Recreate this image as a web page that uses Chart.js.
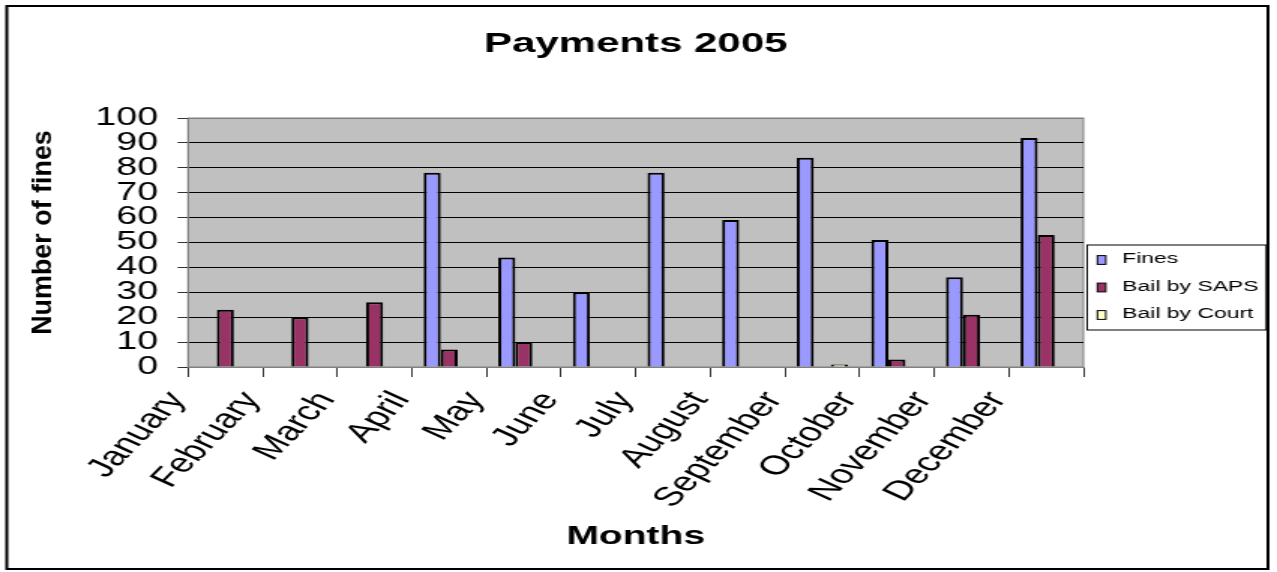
<!DOCTYPE html>
<html>
<head>
<meta charset="utf-8">
<title>Payments 2005</title>
<script src="https://cdn.jsdelivr.net/npm/chart.js@4.4.1/dist/chart.umd.min.js"></script>
<style>
  body { margin: 0; background: #fff; }
  #chartPagos { display: block; }
</style>
</head>
<body>
<!-- the chart is drawn narrow and stretched sideways, like the original picture -->
<canvas id="chartPagos" width="851" height="572" style="width:1277px;height:572px"></canvas>
<script>
const meses = ['January', 'February', 'March', 'April', 'May', 'June', 'July', 'August', 'September', 'October', 'November', 'December']
const fines = [0, 0, 0, 78, 44, 30, 78, 59, 84, 51, 36, 92]
const bailSAPS = [23, 20, 26, 7, 10, 0, 0, 0, 0, 3, 21, 53]
const bailCourt = [0, 0, 0, 0, 0, 0, 0, 0, 1, 0, 0, 0]
const ticksY = [0, 10, 20, 30, 40, 50, 60, 70, 80, 90, 100]

const fuente = "'Liberation Sans', Arial, sans-serif"

// white page, outer frame and grey plot area
const fondo = {
  id: 'fondo',
  beforeDraw(chart) {
    const { ctx, chartArea: a } = chart
    ctx.save()
    ctx.fillStyle = '#fff'
    ctx.fillRect(0, 0, chart.width, chart.height)
    ctx.strokeStyle = '#000'
    ctx.lineWidth = 2
    ctx.strokeRect(4.5, 6, 840.5, 563)
    ctx.fillStyle = '#c0c0c0'
    ctx.fillRect(a.left, a.top, a.width, a.height)
    ctx.strokeStyle = '#808080'
    ctx.lineWidth = 1
    ctx.strokeRect(a.left, a.top, a.width, a.height)
    ctx.restore()
  }
}

// y title squeezed like the original, and the boxed legend on the right
const extras = {
  id: 'extras',
  afterDraw(chart) {
    const ctx = chart.ctx
    ctx.save()
    ctx.translate(29.5, 232.5)
    ctx.rotate(-Math.PI / 2)
    ctx.scale(1.12, 0.74)
    ctx.fillStyle = '#000'
    ctx.font = 'bold 24px ' + fuente
    ctx.textAlign = 'center'
    ctx.textBaseline = 'middle'
    ctx.fillText('Number of fines', 0, 0)
    ctx.restore()

    ctx.save()
    ctx.fillStyle = '#fff'
    ctx.strokeStyle = '#000'
    ctx.lineWidth = 1
    ctx.fillRect(724.5, 245, 119.3, 85)
    ctx.strokeRect(724.5, 245, 119.3, 85)
    ctx.font = '15.3px ' + fuente
    ctx.textBaseline = 'middle'
    chart.data.datasets.forEach((ds, i) => {
      const y = 260 + i * 27.5
      ctx.fillStyle = ds.backgroundColor
      ctx.fillRect(731.3, y - 4.4, 5.6, 8.8)
      ctx.strokeRect(731.3, y - 4.4, 5.6, 8.8)
      ctx.fillStyle = '#000'
      ctx.fillText(ds.label, 747.8, y - 1)
    })
    ctx.restore()
  }
}

new Chart(document.getElementById('chartPagos'), {
  type: 'bar',
  data: {
    labels: meses,
    datasets: [
      { label: 'Fines', data: fines, backgroundColor: '#9999FF' },
      { label: 'Bail by SAPS', data: bailSAPS, backgroundColor: '#993366' },
      { label: 'Bail by Court', data: bailCourt, backgroundColor: '#FFFFCC' }
    ]
  },
  options: {
    responsive: false,
    animation: false,
    devicePixelRatio: 1,
    layout: { padding: { left: 10, top: 10, right: 129, bottom: 0 } },
    datasets: {
      bar: { borderColor: '#000', borderWidth: 2, barPercentage: 1, categoryPercentage: 0.685 }
    },
    plugins: {
      legend: { display: false },
      tooltip: { enabled: false },
      title: {
        display: true,
        text: 'Payments 2005',
        fullSize: false,
        color: '#000',
        font: { family: fuente, size: 28, weight: 'bold' },
        padding: { top: 17, bottom: 57.4 }
      }
    },
    scales: {
      x: {
        grid: { drawOnChartArea: false, drawTicks: true, tickLength: 10, color: '#333', offset: true },
        border: { color: '#808080' },
        ticks: {
          color: '#000',
          font: { family: fuente, size: 27 },
          minRotation: 56,
          maxRotation: 56,
          autoSkip: false,
          labelOffset: -32,
          padding: 9
        },
        title: {
          display: true,
          text: 'Months',
          color: '#000',
          font: { family: fuente, size: 26, weight: 'bold' },
          padding: { top: 0, bottom: 20 }
        },
        afterFit(s) { s.height = 205 }
      },
      y: {
        min: 0,
        max: 100,
        afterBuildTicks(s) { s.ticks = ticksY.map(v => ({ value: v })) },
        grid: {
          color: c => (c.tick && (c.tick.value === 0 || c.tick.value === 100)) ? '#808080' : '#000',
          tickColor: '#333',
          tickLength: 7
        },
        border: { color: '#808080' },
        ticks: { color: '#000', font: { family: fuente, size: 25, lineHeight: 1 }, padding: 13, autoSkip: false },
        afterFit(s) { s.width = 115.3 }
      }
    }
  },
  plugins: [fondo, extras]
})
</script>
</body>
</html>
